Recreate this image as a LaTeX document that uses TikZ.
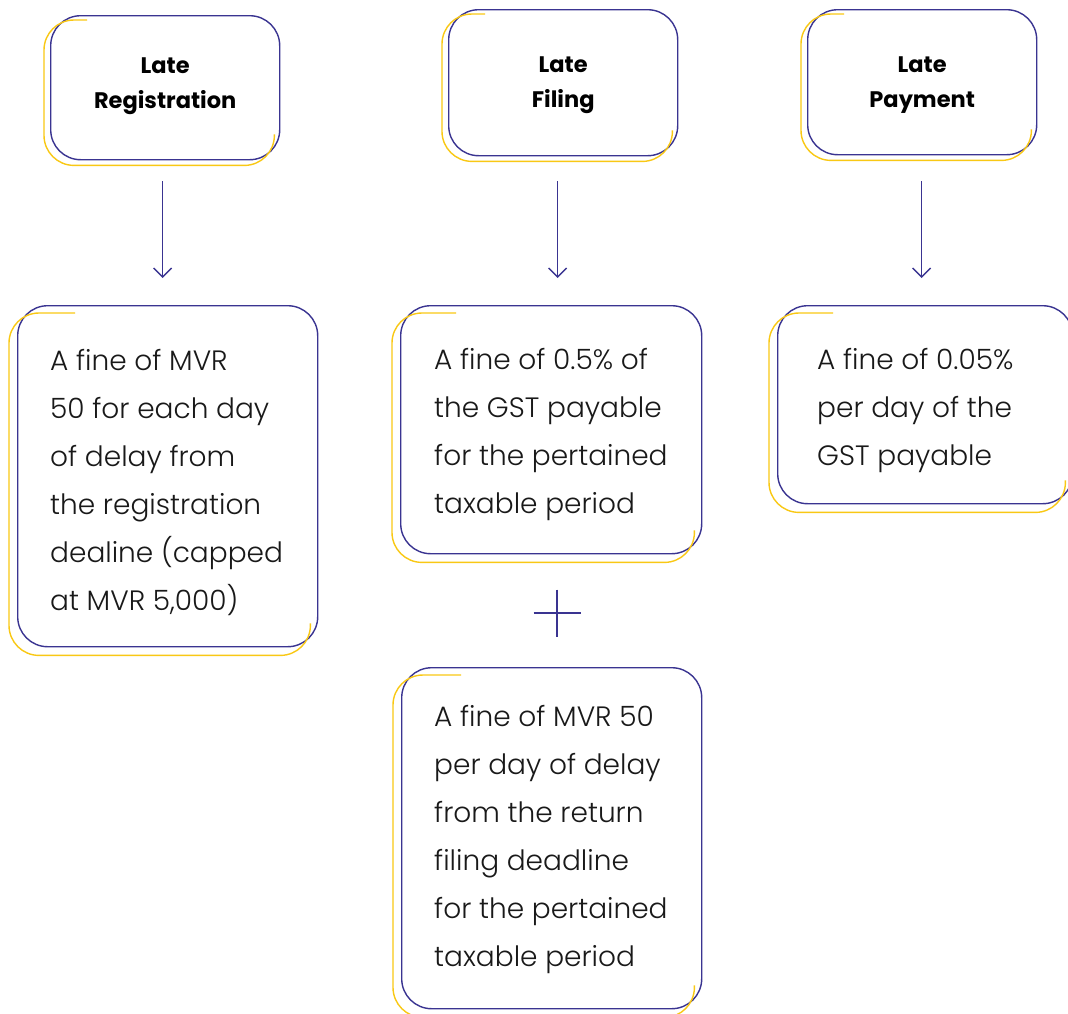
\documentclass[tikz,border=0pt]{standalone}
\usepackage{fontspec}
\setmainfont{Poppins}
\IfFontExistsTF{Poppins Light}{\newfontfamily\bodyfont{Poppins Light}}{\newfontfamily\bodyfont{Poppins}}
\newfontfamily\titlefont{Poppins}
\usetikzlibrary{arrows.meta,calc}
\definecolor{navy}{RGB}{58,52,145}
\definecolor{gold}{RGB}{249,200,20}
\definecolor{ink}{RGB}{25,25,25}
\tikzset{
  navybox/.style={draw=navy, line width=1.4pt, rounded corners=30pt, anchor=north west, inner sep=0pt},
  goldline/.style={draw=gold, line width=1.4pt, rounded corners=30pt},
  bodytext/.style={font=\bodyfont\fontsize{28}{48}\selectfont, text=ink, align=left, anchor=base west, inner sep=0pt},
  titletext/.style={font=\titlefont\bfseries\fontsize{22.5}{35}\selectfont, text=black, align=center, anchor=base, inner sep=0pt},
  arr/.style={draw=navy, line width=1.4pt, -{Straight Barb[length=9pt,width=18pt,line width=1.4pt]}},
}
\begin{document}
\begin{tikzpicture}[x=1pt,y=-1pt]
\clip (0,0) rectangle (1068,1013);
\fill[white] (0,0) rectangle (1068,1013);
% title boxes
\node[navybox, minimum width=229pt, minimum height=144pt] (r1) at (50,15) {};
\node[navybox, minimum width=229pt, minimum height=146pt] (r2) at (448,9) {};
\node[navybox, minimum width=229pt, minimum height=145pt] (r3) at (807,9) {};
% fine boxes
\node[navybox, minimum width=300pt, minimum height=341pt] (f1) at (17,305) {};
\node[navybox, minimum width=301pt, minimum height=248pt] (f2) at (400,305) {};
\node[navybox, minimum width=295pt, minimum height=198pt] (f3) at (777,305) {};
\node[navybox, minimum width=300pt, minimum height=341pt] (f4) at (401,667) {};
% gold offset outlines
\foreach \b/\dx/\dy/\tl/\st in {r1/-6/5/43/31, r2/-6/5/43/31, r3/-6/5/43/31, f1/-8/8/66/32, f2/-8/8/64/32, f3/-8/8/64/32, f4/-8/8/68/32}{
  \draw[goldline] ($(\b.north west)+(\dx+\tl,\dy)$) -- ($(\b.north west)+(\dx,\dy)$) -- ($(\b.south west)+(\dx,\dy)$) -- ($(\b.south east)+(\dx,\dy)$) -- ($(\b.south east)+(\dx,\dy-\st)$);
}
% titles (base = last line)
\node[titletext] (l1) at ($(r1.north)+(0,93)$) {Late\\Registration};
\node[titletext] (l2) at ($(r2.north)+(0,98)$) {Late\\Filing};
\node[titletext] (l3) at ($(r3.north)+(0,98)$) {Late\\Payment};
% body texts (base = last line)
\node[bodytext] (t1) at (50,610) {A fine of MVR\\50 for each day\\of delay from\\the registration\\dealine (capped\\at MVR 5,000)};
\node[bodytext] (t2) at (434,513) {A fine of 0.5\% of\\the GST payable\\for the pertained\\taxable period};
\node[bodytext] (t3) at (817,465) {A fine of 0.05\%\\per day of the\\GST payable};
\node[bodytext] (t4) at (434,966) {A fine of MVR 50\\per day of delay\\from the return\\filing deadline\\for the pertained\\taxable period};
% arrows
\draw[arr, shorten <=21pt, shorten >=27pt] ([xshift=-2.5pt]r1.south) -- ([xshift=-2.5pt]r1.south |- f1.north);
\draw[arr, shorten <=25pt, shorten >=27pt] ([xshift=-5.5pt]r2.south) -- ([xshift=-5.5pt]r2.south |- f2.north);
\draw[arr, shorten <=26pt, shorten >=27pt] ([xshift=-0.5pt]r3.south) -- ([xshift=-0.5pt]r3.south |- f3.north);
% plus sign
\coordinate (plus) at (557,613);
\draw[navy, line width=1.4pt] ($(plus)+(-23.5,0)$) -- ($(plus)+(23.5,0)$);
\draw[navy, line width=1.4pt] ($(plus)+(0,-23.5)$) -- ($(plus)+(0,23.5)$);
\end{tikzpicture}
\end{document}
